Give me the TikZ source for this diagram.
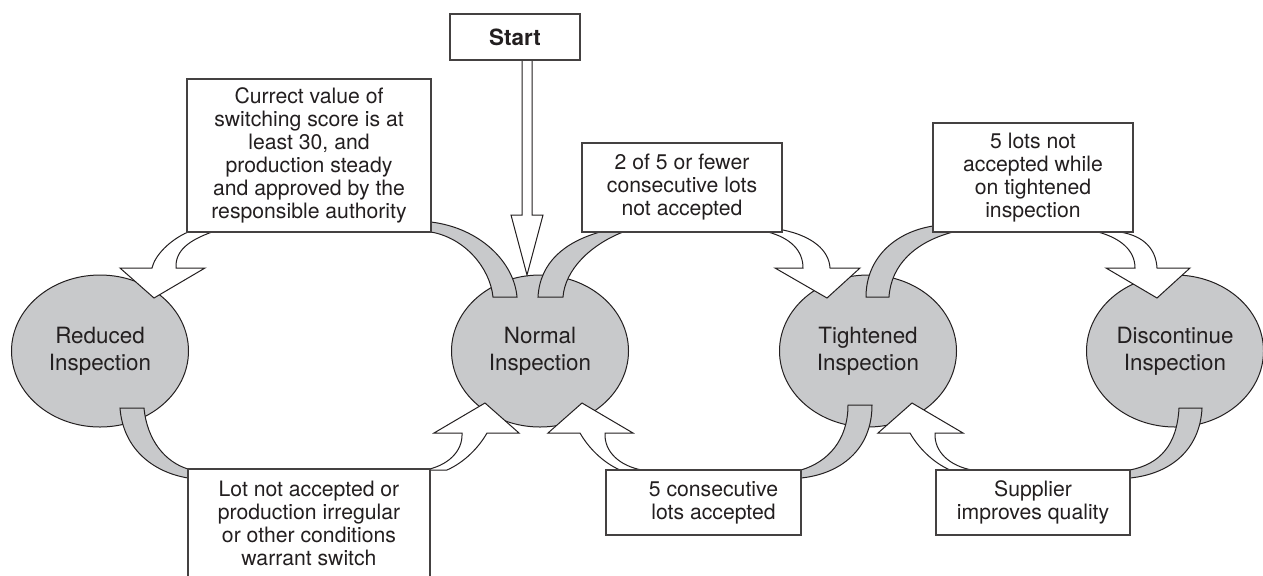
\documentclass[tikz,border=0pt]{standalone}
\usepackage{fontspec}
\setmainfont{TeX Gyre Heros}
\usetikzlibrary{shapes.geometric}
\definecolor{inkline}{RGB}{35,31,32}
\definecolor{stategray}{RGB}{200,201,203}

\begin{document}
\begin{tikzpicture}[x=0.5pt,y=-0.5pt,
  state/.style={ellipse,draw=inkline,line width=0.5pt,fill=stategray,
    minimum width=88.5pt,minimum height=76pt,inner sep=0pt,align=center,
    text=inkline,font=\fontsize{11.2}{13.3}\selectfont},
  note/.style={rectangle,draw=inkline!85,line width=0.8pt,fill=white,
    inner sep=0pt,align=center,text=inkline,font=\fontsize{10.6}{11.5}\selectfont},
  band/.style={draw=inkline,line width=0.5pt,fill=stategray},
  hollow/.style={draw=inkline,line width=0.5pt,fill=white}]
  \clip (0,0) rectangle (1263,575);
  % the four inspection states
  \node[state] (reduced) at (100,351) {Reduced\\Inspection};
  \node[state] (normal) at (540,351) {Normal\\Inspection};
  \node[state] (tightened) at (868,351) {Tightened\\Inspection};
  \node[state] (discont) at (1175,351) {Discontinue\\Inspection};
  % gray tails leaving a state
  \draw[band] (517,297) .. controls (514,262) and (480,228) .. (431,222) -- (420,222)
    -- (425,232) -- (431,232) .. controls (465,238) and (490,268) .. (493,297) -- cycle;
  \draw[band] (538,297) .. controls (540,262) and (565,242) .. (600,232) -- (605,226)
    -- (628,226) -- (623,232) .. controls (590,245) and (565,270) .. (563,297) -- cycle;
  \draw[band] (866,297) .. controls (866,258) and (895,232) .. (933,226) -- (945,220)
    -- (960,228) -- (953,232) .. controls (915,242) and (891,265) .. (889,297) -- cycle;
  \draw[band] (120,408) .. controls (123,448) and (152,472) .. (188,478) -- (196,478)
    -- (196,469) -- (188,469) .. controls (165,462) and (147,440) .. (144,408) -- cycle;
  \draw[band] (872,405) .. controls (872,450) and (840,474) .. (801,478) -- (794,478)
    -- (794,470) -- (801,470) .. controls (828,462) and (848,440) .. (848,405) -- cycle;
  \draw[band] (1202,408) .. controls (1200,450) and (1170,474) .. (1130,478) -- (1122,478)
    -- (1122,470) -- (1130,470) .. controls (1160,464) and (1177,445) .. (1179,408) -- cycle;
  % white arrows entering a state
  \draw[hollow] (522,56) -- (522,215) -- (511,215) -- (527,275) -- (543,215)
    -- (532,215) -- (532,56) -- cycle;
  \draw[hollow] (188,232) .. controls (170,240) and (155,255) .. (152,268) -- (120,268)
    -- (154,298) -- (205,268) -- (176,268) .. controls (175,250) and (190,240) .. (212,232)
    -- (212,226) -- (188,226) -- cycle;
  \draw[hollow] (768,232) .. controls (790,238) and (803,250) .. (803,268) -- (775,268)
    -- (827,298) -- (860,268) -- (830,268) .. controls (829,250) and (812,236) .. (783,230)
    -- (778,226) -- (768,226) -- cycle;
  \draw[hollow] (1098,232) .. controls (1120,238) and (1135,250) .. (1135,268) -- (1106,268)
    -- (1157,298) -- (1190,268) -- (1157,268) .. controls (1156,250) and (1145,236) .. (1120,232)
    -- (1120,226) -- (1098,226) -- cycle;
  \draw[hollow] (487,433) .. controls (479,447) and (465,462) .. (447,470) -- (425,470)
    .. controls (447,466) and (463,452) .. (462,433) -- (434,433) -- (485,403)
    -- (519,433) -- cycle;
  \draw[hollow] (580,433) .. controls (588,447) and (602,462) .. (620,470) -- (622,476)
    -- (645,476) -- (642,470) .. controls (620,466) and (604,452) .. (605,433)
    -- (633,433) -- (582,403) -- (548,433) -- cycle;
  \draw[hollow] (910,433) .. controls (918,447) and (932,462) .. (950,470) -- (952,476)
    -- (975,476) -- (972,470) .. controls (950,466) and (934,452) .. (935,433)
    -- (963,433) -- (912,403) -- (878,433) -- cycle;
  % switching conditions
  \node[note,minimum width=65pt,minimum height=23pt,font=\fontsize{11.2}{13}\selectfont\bfseries]
    (start) at (515,37) {Start};
  \node[note,minimum width=122pt,minimum height=76.5pt] (toreduced) at (309,155.5)
    {Currect value of\\switching score is at\\least 30, and\\production steady\\and approved by the\\responsible authority};
  \node[note,minimum width=100pt,minimum height=44.5pt] (totightened) at (682,187.5)
    {2 of 5 or fewer\\consecutive lots\\not accepted};
  \node[note,minimum width=100pt,minimum height=54.5pt] (todiscont) at (1033,177.5)
    {5 lots not\\accepted while\\on tightened\\inspection};
  \node[note,minimum width=121pt,minimum height=54.5pt] (fromreduced) at (309,523.5)
    {Lot not accepted or\\production irregular\\or other conditions\\warrant switch};
  \node[note,minimum width=97.5pt,minimum height=32.5pt] (fromtightened) at (703.5,502.5)
    {\hspace*{10pt}5 consecutive\\\hspace*{10pt}lots accepted};
  \node[note,minimum width=97pt,minimum height=32.5pt] (fromdiscont) at (1033,502.5)
    {Supplier\\improves quality};
\end{tikzpicture}
\end{document}
